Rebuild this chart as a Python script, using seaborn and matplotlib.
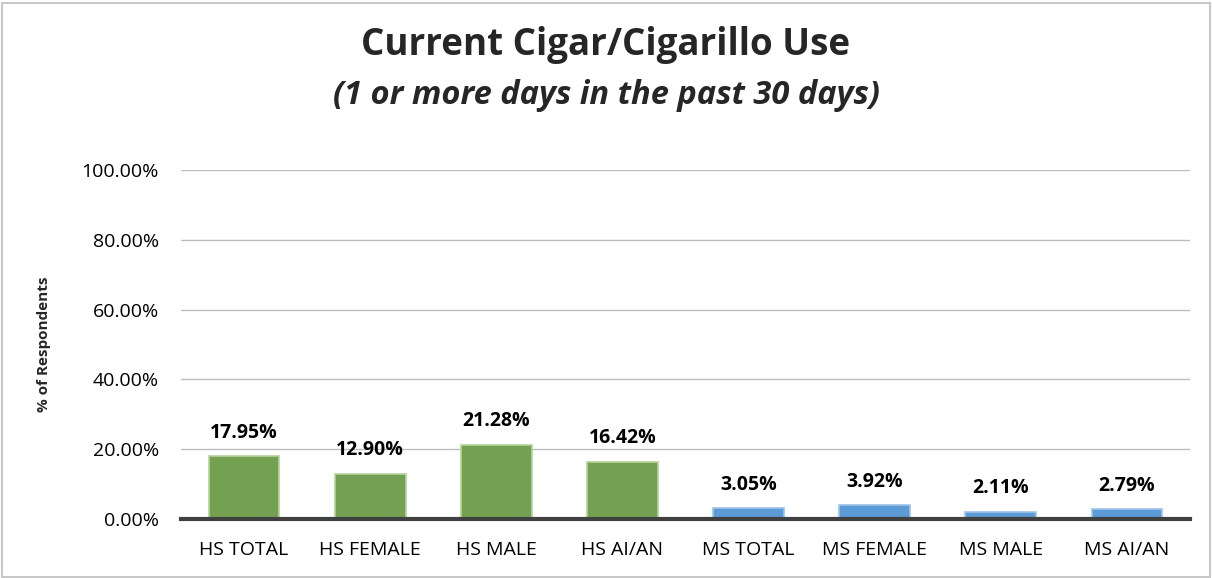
import matplotlib.pyplot as plt
import seaborn as sns
from matplotlib.patches import Rectangle
from matplotlib.ticker import FuncFormatter

# Chart data
groups = ["HS TOTAL", "HS FEMALE", "HS MALE", "HS AI/AN",
          "MS TOTAL", "MS FEMALE", "MS MALE", "MS AI/AN"]
values = [17.95, 12.90, 21.28, 16.42, 3.05, 3.92, 2.11, 2.79]
school = ["HS", "HS", "HS", "HS", "MS", "MS", "MS", "MS"]
yticks = [0, 20, 40, 60, 80, 100]

sns.set_theme(style="white")
plt.rcParams["font.family"] = ["Open Sans", "DejaVu Sans"]

fig = plt.figure(figsize=(12.12, 5.78), dpi=100)
ax = fig.add_axes([181 / 1212, 1 - 519 / 578, 1009 / 1212, 349 / 578])

palette = {"HS": "#74A151", "MS": "#5D9BD6"}
edges = {"HS": "#B5D39B", "MS": "#9CC3EA"}
sns.barplot(x=groups, y=values, hue=school, palette=palette, dodge=False,
            width=0.56, legend=False, ax=ax, saturation=1)

for bar, s in zip(sorted(ax.patches, key=lambda b: b.get_x()), school):
    bar.set_edgecolor(edges[s])
    bar.set_linewidth(1.2)

# value labels sit a fixed distance above each bar
for i, v in enumerate(values):
    ax.annotate(f"{v:.2f}%", (i, v), xytext=(0, 17), textcoords="offset points",
                ha="center", va="center", fontsize=14, fontweight="bold", color="black")

ax.set_ylim(0, 100)
ax.set_xlim(-0.5, len(groups) - 0.5)
ax.set_yticks(yticks)
ax.yaxis.set_major_formatter(FuncFormatter(lambda v, p: f"{v:.2f}%"))
ax.yaxis.grid(True, color="#BDBDBD", linewidth=1)
ax.set_axisbelow(True)
for side in ["top", "right", "left"]:
    ax.spines[side].set_visible(False)
ax.spines["bottom"].set_color("#404040")
ax.spines["bottom"].set_linewidth(3)
ax.tick_params(axis="both", length=0, labelsize=14, colors="black")
ax.tick_params(axis="y", pad=16)
ax.tick_params(axis="x", pad=16)
ax.set_ylabel("% of Respondents", fontsize=11, fontweight="bold", labelpad=22)

fig.text(0.5, 1 - 45 / 578, "Current Cigar/Cigarillo Use", ha="center", va="center",
         fontsize=26.5, fontweight="bold")
fig.text(0.5, 1 - 95 / 578, "(1 or more days in the past 30 days)", ha="center",
         va="center", fontsize=23.5, fontweight="bold", style="italic")

fig.patches.append(Rectangle((0.002, 0.002), 0.996, 0.993, transform=fig.transFigure,
                             fill=False, edgecolor="#C8C8C8", linewidth=1.5))

fig.savefig("out.png", dpi=100)
